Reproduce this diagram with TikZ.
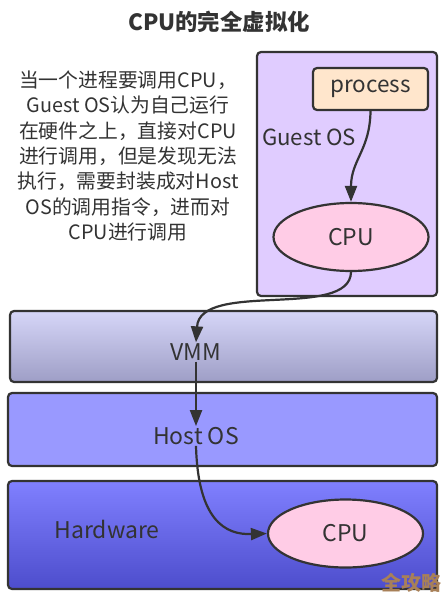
\documentclass[tikz,border=0pt]{standalone}
\usepackage{fontspec}
\setmainfont{Noto Sans CJK SC}
\usetikzlibrary{arrows.meta,positioning,shapes.geometric}
\definecolor{lineclr}{RGB}{51,51,51}
\definecolor{guestfill}{RGB}{224,204,255}
\definecolor{procfill}{RGB}{255,230,204}
\definecolor{cpufill}{RGB}{255,204,230}
\definecolor{vmmtop}{RGB}{214,214,248}
\definecolor{vmmbot}{RGB}{158,158,198}
\definecolor{hostfill}{RGB}{153,153,255}
\definecolor{hwtop}{RGB}{128,128,255}
\definecolor{hwbot}{RGB}{77,77,204}
\definecolor{markclr}{RGB}{168,128,88}

\begin{document}
\begin{tikzpicture}[x=1pt,y=-1pt,
  layer/.style={draw=lineclr, line width=2.2pt, rounded corners=4pt, inner sep=0pt},
  cpuell/.style={ellipse, draw=lineclr, line width=2.2pt, fill=cpufill, inner sep=0pt,
    minimum width=155pt, minimum height=68pt, text=lineclr, font=\fontsize{23}{23}\selectfont},
  lbl/.style={text=lineclr, inner sep=1pt, font=\fontsize{23}{23}\selectfont},
  flow/.style={draw=lineclr, line width=2.2pt, -{Triangle[length=16pt,width=12pt]}}]
\useasboundingbox (0,0) rectangle (447,604);
% Title
\node[text=lineclr, font=\fontsize{22.4}{22.4}\selectfont\bfseries] (title) at (219,22) {CPU的完全虚拟化};
% Note on the left
\node[lbl, align=center, font=\fontsize{19.8}{25.3}\selectfont] (note) at (128,156)
  {当一个进程要调用CPU，\\Guest OS认为自己运行\\在硬件之上，直接对CPU\\进行调用，但是发现无法\\执行，需要封装成对Host\\OS的调用指令，进而对\\CPU进行调用};
% Guest OS
\node[layer, fill=guestfill, minimum width=180pt, minimum height=244pt] (guest) at (347,174) {};
\node[layer, fill=procfill, minimum width=115pt, minimum height=42pt, text=lineclr,
  font=\fontsize{22.5}{22.5}\selectfont] (proc) at (370.5,89) {process};
\node[lbl, anchor=west, font=\fontsize{22.2}{22.2}\selectfont] (guesttxt) at (261,137) {Guest OS};
\node[cpuell] (cpua) at (351,237) {CPU};
% Layers
\node[layer, top color=vmmtop, bottom color=vmmbot, minimum width=427pt, minimum height=71pt] (vmm) at (223.5,346.5) {};
\node[layer, fill=hostfill, minimum width=429pt, minimum height=73pt] (host) at (222.5,429.5) {};
\node[layer, top color=hwtop, bottom color=hwbot, minimum width=429pt, minimum height=108pt] (hw) at (222.5,535) {};
\node[lbl] (vmmtxt) at (196,352) {VMM};
\node[lbl] (hosttxt) at (196,436) {Host OS};
\node[lbl] (hwtxt) at (107,529) {Hardware};
\node[cpuell] (cpub) at (345.5,533.5) {CPU};
% Calls
\draw[flow] (proc.south) .. controls (370,150) and (351,160) .. (cpua.north);
\draw[flow] (cpua.south) .. controls (350,320) and (200,280) .. (vmmtxt.north);
\draw[flow] (vmmtxt.south) -- (hosttxt.north);
\draw[flow] (hosttxt.south) .. controls (198,520) and (225,535) .. (cpub.west);
% Watermark
\node[text=markclr, font=\fontsize{20}{20}\selectfont\bfseries] (mark) at (411,583) {全攻略};
\end{tikzpicture}
\end{document}
